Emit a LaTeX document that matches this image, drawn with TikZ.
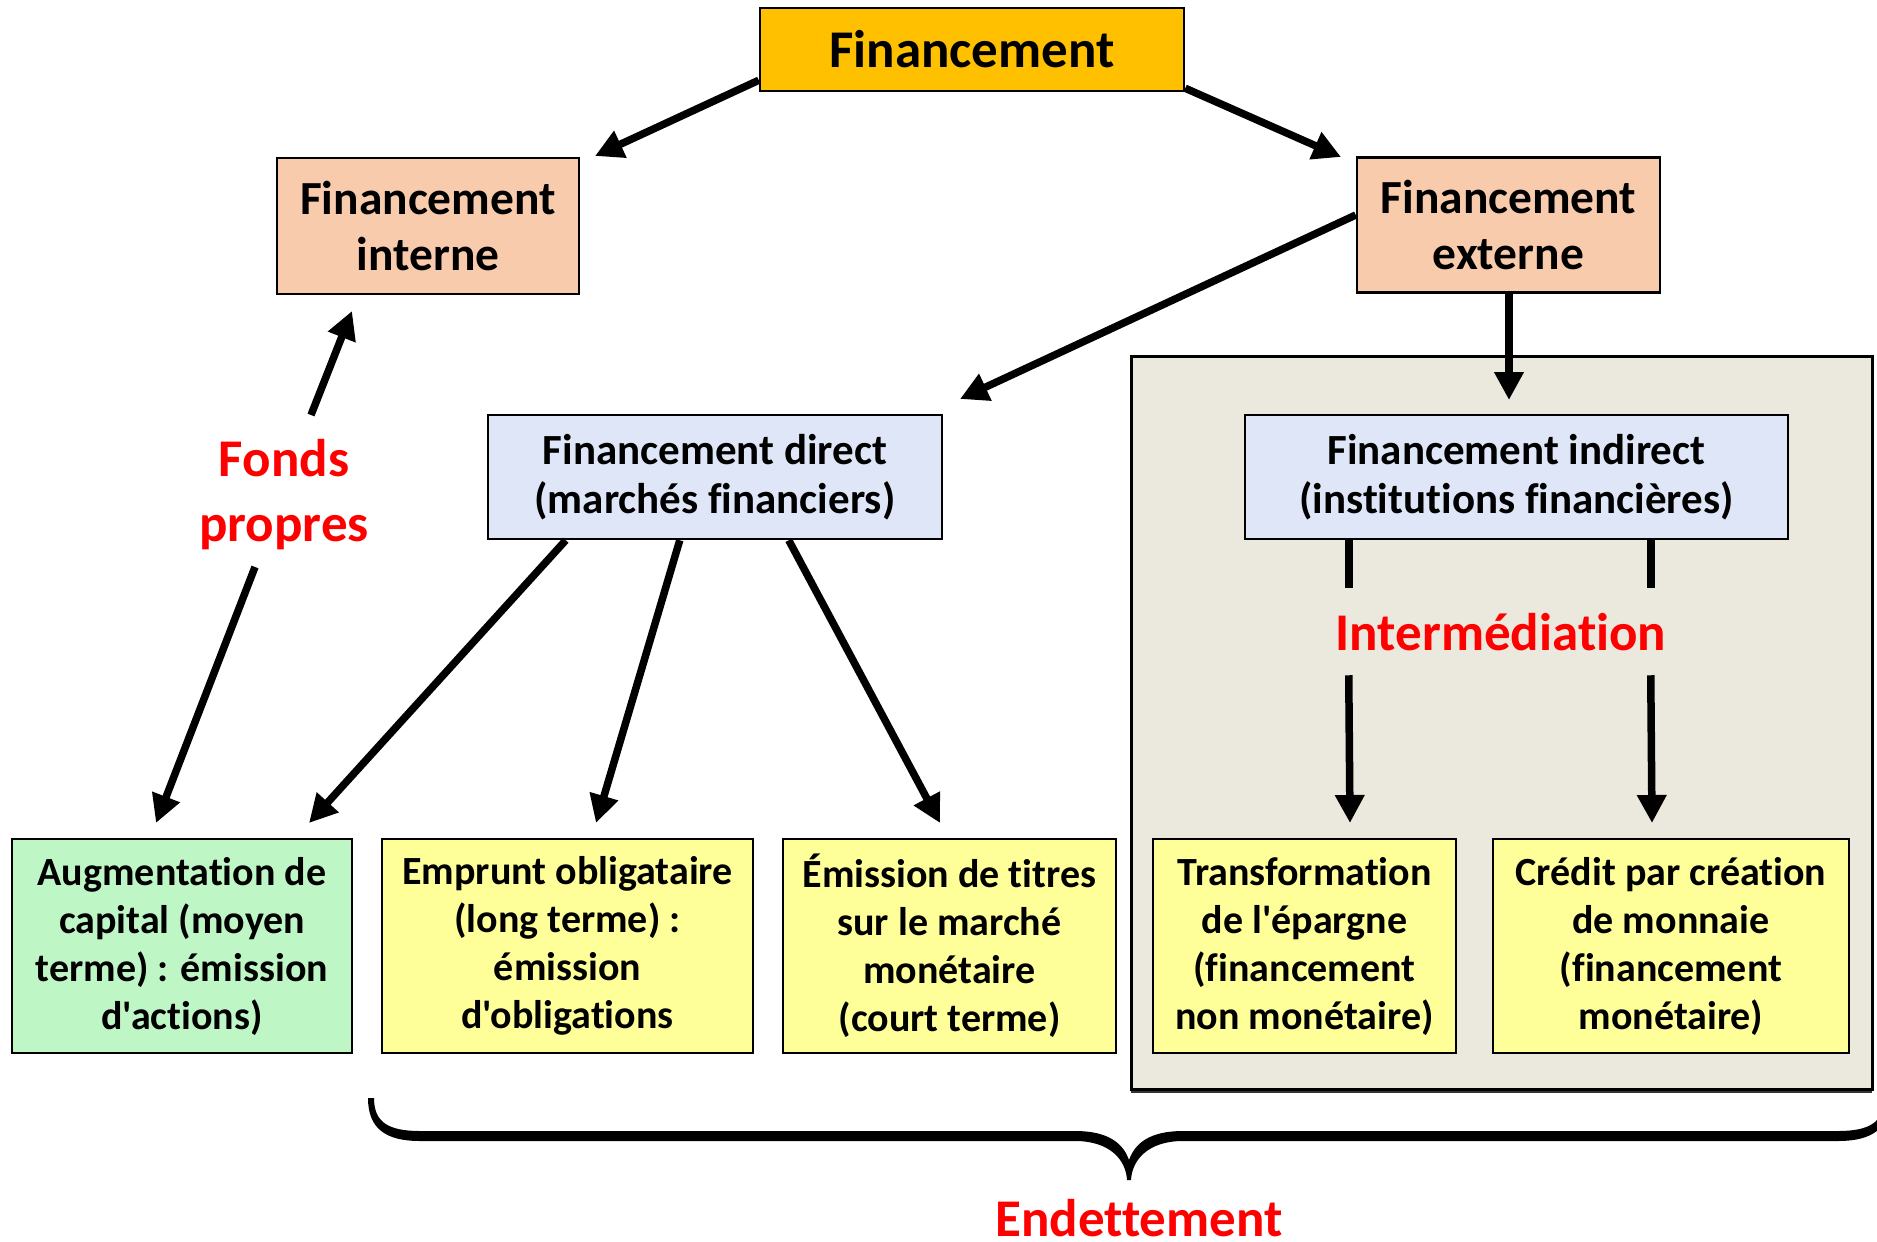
\documentclass[tikz,border=0pt]{standalone}
\usepackage{fontspec}
\setmainfont{Carlito}[Ligatures={CommonOff,TeXOff}]
\usetikzlibrary{arrows.meta,calc}

\definecolor{topfill}{HTML}{FFC000}
\definecolor{peach}{HTML}{F8CBAD}
\definecolor{paleblue}{HTML}{DEE6F7}
\definecolor{palegreen}{HTML}{BFF6C6}
\definecolor{paleyellow}{HTML}{FFFF99}
\definecolor{panelgray}{HTML}{EBE9DD}
\definecolor{labelred}{HTML}{FF0000}

\tikzset{
  box/.style={draw=black, line width=2.5pt, align=center, inner sep=0pt,
              font=\bfseries},
  toptext/.style={font=\bfseries\fontsize{53}{64}\selectfont},
  midtext/.style={font=\bfseries\fontsize{47.5}{56}\selectfont},
  dirtext/.style={font=\bfseries\fontsize{43}{49}\selectfont},
  bottext/.style={font=\bfseries\fontsize{40}{48}\selectfont},
  redlabel/.style={text=labelred, align=center,
                   font=\bfseries\fontsize{53}{65}\selectfont},
  redword/.style={text=labelred, inner sep=0pt,
                  font=\bfseries\fontsize{53}{65}\selectfont},
  arr/.style={line width=7.5pt, -{Triangle[length=28pt,width=28pt]}},
  plain/.style={line width=7.5pt}
}
% centred block of lines, nudged down a little inside its box
\newcommand{\boxlines}[2]{\raisebox{-3.5pt}{\parbox{#1}{\centering #2}}}

\begin{document}
\begin{tikzpicture}[x=1pt,y=-1pt]
\useasboundingbox (0,0) rectangle (1877,1242);

% panel grouping the indirect financing branch, with its drop shadow
\fill[black!80] (1131,359) rectangle (1872,1093);
\node[draw=black, line width=3pt, fill=panelgray, minimum width=741pt,
      minimum height=733pt, inner sep=0pt] (panel) at (1501.5,722.5) {};

% boxes
\node[box, toptext, fill=topfill, minimum width=424pt, minimum height=83pt]
  (top) at (972,49.5) {Financement};
\node[box, midtext, fill=peach, minimum width=302pt, minimum height=136pt]
  (interne) at (428,226) {Financement\\interne};
\node[box, midtext, fill=peach, minimum width=303pt, minimum height=135pt]
  (externe) at (1508.5,225) {Financement\\externe};
\node[box, dirtext, fill=paleblue, minimum width=454pt, minimum height=124pt]
  (direct) at (715,477) {\boxlines{445pt}{Financement direct\\(marchés financiers)}};
\node[box, dirtext, fill=paleblue, minimum width=543pt, minimum height=124pt]
  (indirect) at (1516.5,477) {\boxlines{535pt}{Financement indirect\\(institutions financières)}};

\node[box, bottext, fill=palegreen, minimum width=340pt, minimum height=214pt]
  (aug) at (182,946) {\boxlines{330pt}{Augmentation de\\capital (moyen\\terme) : émission\\d'actions)}};
\node[box, bottext, fill=paleyellow, minimum width=371pt, minimum height=214pt]
  (emp) at (567.5,946) {\boxlines{360pt}{Emprunt obligataire\\(long terme) :\\émission\\d'obligations}};
\node[box, bottext, fill=paleyellow, minimum width=333pt, minimum height=214pt]
  (emi) at (949.5,946) {\boxlines{325pt}{Émission de titres\\sur le marché\\monétaire\\(court terme)}};
\node[box, bottext, fill=paleyellow, minimum width=303pt, minimum height=214pt]
  (tra) at (1304.5,946) {\boxlines{298pt}{Transformation\\de l'épargne\\(financement\\non monétaire)}};
\node[box, bottext, fill=paleyellow, minimum width=356pt, minimum height=214pt]
  (cre) at (1671,946) {\boxlines{350pt}{Crédit par création\\de monnaie\\(financement\\monétaire)}};

% red labels
\node[redlabel] (fp) at (284,495) {Fonds\\propres};
\node[redlabel] (inter) at (1501,632) {Intermédiation};
\node[redword, anchor=base] (endet) at (1139,1236) {Endettement};

% arrow end points, kept clear of the boxes
\coordinate (tipInterne) at (595,156);
\coordinate (tipExterne) at (1341,157);
\coordinate (tipDirect) at (960,399);
\coordinate (tipIndirect) at (1509,400);
\coordinate (tipFpUp) at (352,311);
\coordinate (tipAug) at (156,823);
\coordinate (tipAugB) at (309,823);
\coordinate (tipEmp) at (596,823);
\coordinate (tipEmi) at (940,823);
\coordinate (tipTra) at (1350,823);
\coordinate (tipCre) at (1652,823);

% connectors from the top box
\draw[arr] ($(top.south west)+(0,-12)$) -- (tipInterne);
\draw[arr] ($(top.south east)+(0,-4)$) -- (tipExterne);
\draw[arr] ($(externe.west)+(0,-10)$) -- (tipDirect);
\draw[arr] ($(externe.south)+(0.5,0)$) -- (tipIndirect);

% own funds
\draw[arr] ($(fp.center)+(27,-80)$) -- (tipFpUp);
\draw[arr] ($(fp.center)+(-29,72)$) -- (tipAug);

% direct financing
\draw[arr] ($(direct.south west)+(79,0)$) -- (tipAugB);
\draw[arr] ($(direct.south west)+(193,0)$) -- (tipEmp);
\draw[arr] ($(direct.south west)+(302,0)$) -- (tipEmi);

% indirect financing through intermediation
\draw[plain] ($(indirect.south west)+(105,0)$) -- ++(0,48);
\draw[plain] ($(indirect.south west)+(407,0)$) -- ++(0,48);
\draw[arr] ($(indirect.south west)+(105,135)$) -- (tipTra);
\draw[arr] ($(indirect.south west)+(407,135)$) -- (tipCre);

% brace over the debt-based financing
\fill[black]
  (368,1098) .. controls (368,1128) and (385,1141) .. (420,1141)
  -- (1075,1141) .. controls (1110,1141) and (1126,1160) .. (1127,1180)
  -- (1131,1180) .. controls (1132,1160) and (1148,1141) .. (1183,1141)
  -- (1838,1141) .. controls (1873,1141) and (1890,1128) .. (1890,1098)
  -- (1884,1098) .. controls (1884,1122) and (1870,1131) .. (1838,1131)
  -- (1183,1131) .. controls (1150,1131) and (1135,1143) .. (1129,1160)
  .. controls (1123,1143) and (1108,1131) .. (1075,1131)
  -- (420,1131) .. controls (388,1131) and (374,1122) .. (374,1098)
  -- cycle;
\end{tikzpicture}
\end{document}
